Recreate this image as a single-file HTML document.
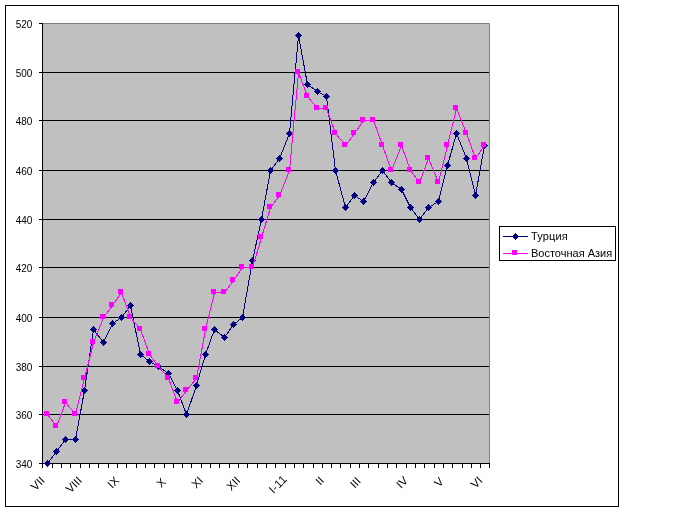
<!DOCTYPE html>
<html><head><meta charset="utf-8"><title>Chart</title>
<style>html,body{margin:0;padding:0;background:#fff;}svg{display:block;will-change:transform;}</style>
</head><body>
<svg width="674" height="512" viewBox="0 0 674 512" font-family='"Liberation Sans", Arial, sans-serif' font-size="11" fill="#000">
<rect x="5.5" y="5.5" width="613" height="501" fill="#fff" stroke="#000" stroke-width="1"/>
<rect x="42" y="23" width="447" height="440" fill="#c0c0c0"/>
<path d="M42 23.5H489.5V463" fill="none" stroke="#808080" stroke-width="1"/>
<path d="M42 414.5H489 M42 366.5H489 M42 317.5H489 M42 267.5H489 M42 219.5H489 M42 170.5H489 M42 120.5H489 M42 72.5H489" stroke="#000" stroke-width="1" fill="none"/>
<path d="M42.5 23V464 M39 463.5H490" stroke="#000" stroke-width="1" fill="none"/>
<text x="32.4" y="468" text-anchor="end" font-size="10">340</text>
<text x="32.4" y="419" text-anchor="end" font-size="10">360</text>
<text x="32.4" y="371" text-anchor="end" font-size="10">380</text>
<text x="32.4" y="322" text-anchor="end" font-size="10">400</text>
<text x="32.4" y="272" text-anchor="end" font-size="10">420</text>
<text x="32.4" y="224" text-anchor="end" font-size="10">440</text>
<text x="32.4" y="175" text-anchor="end" font-size="10">460</text>
<text x="32.4" y="125" text-anchor="end" font-size="10">480</text>
<text x="32.4" y="77" text-anchor="end" font-size="10">500</text>
<text x="32.4" y="28" text-anchor="end" font-size="10">520</text>
<path d="M39 463.5H42 M39 414.5H42 M39 366.5H42 M39 317.5H42 M39 267.5H42 M39 219.5H42 M39 170.5H42 M39 120.5H42 M39 72.5H42 M39 23.5H42 M42.5 464V468 M52.5 464V468 M61.5 464V468 M70.5 464V468 M80.5 464V468 M89.5 464V468 M98.5 464V468 M108.5 464V468 M117.5 464V468 M126.5 464V468 M136.5 464V468 M145.5 464V468 M154.5 464V468 M164.5 464V468 M173.5 464V468 M182.5 464V468 M191.5 464V468 M201.5 464V468 M210.5 464V468 M219.5 464V468 M229.5 464V468 M238.5 464V468 M247.5 464V468 M257.5 464V468 M266.5 464V468 M275.5 464V468 M285.5 464V468 M294.5 464V468 M303.5 464V468 M313.5 464V468 M322.5 464V468 M331.5 464V468 M340.5 464V468 M350.5 464V468 M359.5 464V468 M368.5 464V468 M378.5 464V468 M387.5 464V468 M396.5 464V468 M406.5 464V468 M415.5 464V468 M424.5 464V468 M434.5 464V468 M443.5 464V468 M452.5 464V468 M462.5 464V468 M471.5 464V468 M480.5 464V468 M489.5 464V468" stroke="#000" stroke-width="1" fill="none"/>
<text transform="translate(42.66 478.50) rotate(-45)" text-anchor="end" dy="0.35em" font-size="11.5">VII</text>
<text transform="translate(79.91 478.50) rotate(-45)" text-anchor="end" dy="0.35em" font-size="11.5">VIII</text>
<text transform="translate(117.16 478.50) rotate(-45)" text-anchor="end" dy="0.35em" font-size="11.5">IX</text>
<text transform="translate(163.72 479.90) rotate(-45)" text-anchor="end" dy="0.35em" font-size="11.5">X</text>
<text transform="translate(200.97 478.50) rotate(-45)" text-anchor="end" dy="0.35em" font-size="11.5">XI</text>
<text transform="translate(238.22 478.50) rotate(-45)" text-anchor="end" dy="0.35em" font-size="11.5">XII</text>
<text transform="translate(284.98 477.00) rotate(-45)" text-anchor="end" dy="0.35em" font-size="11.5" letter-spacing="0.3">I-11</text>
<text transform="translate(322.03 478.50) rotate(-45)" text-anchor="end" dy="0.35em" font-size="11.5">II</text>
<text transform="translate(358.68 479.00) rotate(-45)" text-anchor="end" dy="0.35em" font-size="11.5">III</text>
<text transform="translate(405.84 478.50) rotate(-45)" text-anchor="end" dy="0.35em" font-size="11.5">IV</text>
<text transform="translate(441.59 479.50) rotate(-45)" text-anchor="end" dy="0.35em" font-size="11.5">V</text>
<text transform="translate(480.34 478.50) rotate(-45)" text-anchor="end" dy="0.35em" font-size="11.5">VI</text>
<path d="M47.5 463.5 L56.5 451.5 L65.5 439.5 L75.5 439.5 L84.5 390.5 L93.5 329.5 L103.5 342.5 L112.5 323.5 L121.5 317.5 L130.5 305.5 L140.5 354.5 L149.5 361.5 L158.5 366.5 L168.5 373.5 L177.5 390.5 L186.5 414.5 L196.5 385.5 L205.5 354.5 L214.5 329.5 L224.5 337.5 L233.5 324.5 L242.5 317.5 L252.5 260.5 L261.5 219.5 L270.5 170.5 L279.5 158.5 L289.5 133.5 L298.5 35.5 L307.5 84.5 L317.5 91.5 L326.5 96.5 L335.5 170.5 L345.5 207.5 L354.5 195.5 L363.5 201.5 L373.5 182.5 L382.5 170.5 L391.5 182.5 L401.5 189.5 L410.5 207.5 L419.5 219.5 L428.5 207.5 L438.5 201.5 L447.5 165.5 L456.5 133.5 L466.5 158.5 L475.5 195.5 L484.5 145.5" stroke="#000080" stroke-width="1" fill="none" shape-rendering="crispEdges"/>
<path d="M47.5 460l3.5 3.5l-3.5 3.5l-3.5 -3.5z M56.5 448l3.5 3.5l-3.5 3.5l-3.5 -3.5z M65.5 436l3.5 3.5l-3.5 3.5l-3.5 -3.5z M75.5 436l3.5 3.5l-3.5 3.5l-3.5 -3.5z M84.5 387l3.5 3.5l-3.5 3.5l-3.5 -3.5z M93.5 326l3.5 3.5l-3.5 3.5l-3.5 -3.5z M103.5 339l3.5 3.5l-3.5 3.5l-3.5 -3.5z M112.5 320l3.5 3.5l-3.5 3.5l-3.5 -3.5z M121.5 314l3.5 3.5l-3.5 3.5l-3.5 -3.5z M130.5 302l3.5 3.5l-3.5 3.5l-3.5 -3.5z M140.5 351l3.5 3.5l-3.5 3.5l-3.5 -3.5z M149.5 358l3.5 3.5l-3.5 3.5l-3.5 -3.5z M158.5 363l3.5 3.5l-3.5 3.5l-3.5 -3.5z M168.5 370l3.5 3.5l-3.5 3.5l-3.5 -3.5z M177.5 387l3.5 3.5l-3.5 3.5l-3.5 -3.5z M186.5 411l3.5 3.5l-3.5 3.5l-3.5 -3.5z M196.5 382l3.5 3.5l-3.5 3.5l-3.5 -3.5z M205.5 351l3.5 3.5l-3.5 3.5l-3.5 -3.5z M214.5 326l3.5 3.5l-3.5 3.5l-3.5 -3.5z M224.5 334l3.5 3.5l-3.5 3.5l-3.5 -3.5z M233.5 321l3.5 3.5l-3.5 3.5l-3.5 -3.5z M242.5 314l3.5 3.5l-3.5 3.5l-3.5 -3.5z M252.5 257l3.5 3.5l-3.5 3.5l-3.5 -3.5z M261.5 216l3.5 3.5l-3.5 3.5l-3.5 -3.5z M270.5 167l3.5 3.5l-3.5 3.5l-3.5 -3.5z M279.5 155l3.5 3.5l-3.5 3.5l-3.5 -3.5z M289.5 130l3.5 3.5l-3.5 3.5l-3.5 -3.5z M298.5 32l3.5 3.5l-3.5 3.5l-3.5 -3.5z M307.5 81l3.5 3.5l-3.5 3.5l-3.5 -3.5z M317.5 88l3.5 3.5l-3.5 3.5l-3.5 -3.5z M326.5 93l3.5 3.5l-3.5 3.5l-3.5 -3.5z M335.5 167l3.5 3.5l-3.5 3.5l-3.5 -3.5z M345.5 204l3.5 3.5l-3.5 3.5l-3.5 -3.5z M354.5 192l3.5 3.5l-3.5 3.5l-3.5 -3.5z M363.5 198l3.5 3.5l-3.5 3.5l-3.5 -3.5z M373.5 179l3.5 3.5l-3.5 3.5l-3.5 -3.5z M382.5 167l3.5 3.5l-3.5 3.5l-3.5 -3.5z M391.5 179l3.5 3.5l-3.5 3.5l-3.5 -3.5z M401.5 186l3.5 3.5l-3.5 3.5l-3.5 -3.5z M410.5 204l3.5 3.5l-3.5 3.5l-3.5 -3.5z M419.5 216l3.5 3.5l-3.5 3.5l-3.5 -3.5z M428.5 204l3.5 3.5l-3.5 3.5l-3.5 -3.5z M438.5 198l3.5 3.5l-3.5 3.5l-3.5 -3.5z M447.5 162l3.5 3.5l-3.5 3.5l-3.5 -3.5z M456.5 130l3.5 3.5l-3.5 3.5l-3.5 -3.5z M466.5 155l3.5 3.5l-3.5 3.5l-3.5 -3.5z M475.5 192l3.5 3.5l-3.5 3.5l-3.5 -3.5z M484.5 142l3.5 3.5l-3.5 3.5l-3.5 -3.5z" fill="#000080" shape-rendering="crispEdges"/>
<path d="M47.5 414.5 L56.5 426.5 L65.5 402.5 L75.5 414.5 L84.5 378.5 L93.5 342.5 L103.5 317.5 L112.5 305.5 L121.5 292.5 L130.5 317.5 L140.5 329.5 L149.5 354.5 L158.5 366.5 L168.5 378.5 L177.5 402.5 L186.5 390.5 L196.5 378.5 L205.5 329.5 L214.5 292.5 L224.5 292.5 L233.5 280.5 L242.5 267.5 L252.5 267.5 L261.5 237.5 L270.5 207.5 L279.5 195.5 L289.5 170.5 L298.5 72.5 L307.5 96.5 L317.5 108.5 L326.5 108.5 L335.5 133.5 L345.5 145.5 L354.5 133.5 L363.5 120.5 L373.5 120.5 L382.5 145.5 L391.5 170.5 L401.5 145.5 L410.5 170.5 L419.5 182.5 L428.5 158.5 L438.5 182.5 L447.5 145.5 L456.5 108.5 L466.5 133.5 L475.5 158.5 L484.5 145.5" stroke="#ff00ff" stroke-width="1" fill="none" shape-rendering="crispEdges"/>
<path d="M44 411h5v5h-5z M53 423h5v5h-5z M62 399h5v5h-5z M72 411h5v5h-5z M81 375h5v5h-5z M90 339h5v5h-5z M100 314h5v5h-5z M109 302h5v5h-5z M118 289h5v5h-5z M127 314h5v5h-5z M137 326h5v5h-5z M146 351h5v5h-5z M155 363h5v5h-5z M165 375h5v5h-5z M174 399h5v5h-5z M183 387h5v5h-5z M193 375h5v5h-5z M202 326h5v5h-5z M211 289h5v5h-5z M221 289h5v5h-5z M230 277h5v5h-5z M239 264h5v5h-5z M249 264h5v5h-5z M258 234h5v5h-5z M267 204h5v5h-5z M276 192h5v5h-5z M286 167h5v5h-5z M295 69h5v5h-5z M304 93h5v5h-5z M314 105h5v5h-5z M323 105h5v5h-5z M332 130h5v5h-5z M342 142h5v5h-5z M351 130h5v5h-5z M360 117h5v5h-5z M370 117h5v5h-5z M379 142h5v5h-5z M388 167h5v5h-5z M398 142h5v5h-5z M407 167h5v5h-5z M416 179h5v5h-5z M425 155h5v5h-5z M435 179h5v5h-5z M444 142h5v5h-5z M453 105h5v5h-5z M463 130h5v5h-5z M472 155h5v5h-5z M481 142h5v5h-5z" fill="#ff00ff" shape-rendering="crispEdges"/>
<rect x="499.5" y="226.5" width="116" height="34" fill="#fff" stroke="#000" stroke-width="1"/>
<path d="M503 236.5H528" stroke="#000080" stroke-width="1"/>
<path d="M515.5 233l3.5 3.5l-3.5 3.5l-3.5 -3.5z" fill="#000080" shape-rendering="crispEdges"/>
<text x="531" y="240" letter-spacing="0.15">Турция</text>
<path d="M503 253.5H528" stroke="#ff00ff" stroke-width="1"/>
<rect x="512" y="250" width="5" height="5" fill="#ff00ff"/>
<text x="531" y="257">Восточная Азия</text>
</svg>
</body></html>
